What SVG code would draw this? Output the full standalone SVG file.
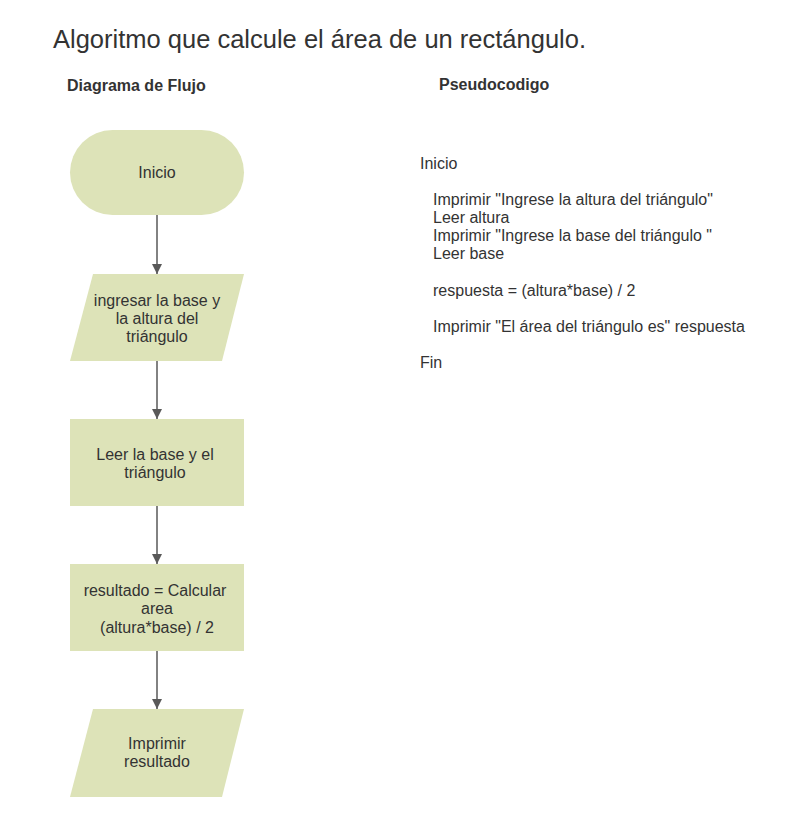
<svg xmlns="http://www.w3.org/2000/svg" width="786" height="832" viewBox="0 0 786 832">
<style>
text{font-family:"Liberation Sans",Arial,sans-serif;fill:#333333}
.n{fill:#dde3b8;stroke:none}
.t{font-size:16px;text-anchor:middle}
.h{font-size:16px;font-weight:bold}
.p{font-size:16px}
.c{stroke:#595959;stroke-width:1.5;fill:none;marker-end:url(#ah)}
</style>
<defs>
<marker id="ah" viewBox="0 0 10 10" refX="10" refY="5" markerWidth="10" markerHeight="10" markerUnits="userSpaceOnUse" orient="auto">
<path d="M0,0 L10,5 L0,10 Z" fill="#595959"/>
</marker>
</defs>
<rect width="786" height="832" fill="#ffffff"/>
<text x="53" y="48" style="font-size:25.5px">Algoritmo que calcule el área de un rectángulo.</text>
<text class="h" x="67" y="91">Diagrama de Flujo</text>
<text class="h" x="439" y="90">Pseudocodigo</text>

<g id="connectors">
<line class="c" x1="157" y1="215" x2="157" y2="274"/>
<line class="c" x1="157" y1="361" x2="157" y2="419"/>
<line class="c" x1="157" y1="506" x2="157" y2="564"/>
<line class="c" x1="157" y1="651" x2="157" y2="709"/>
</g>

<g id="inicio">
<rect class="n" x="70" y="130" width="174" height="85" rx="42.5" ry="42.5"/>
<text class="t" x="157" y="178">Inicio</text>
</g>
<g id="entrada">
<polygon class="n" points="93,274 244,274 222,361 70,361"/>
<text class="t" x="157" y="306">ingresar la base y</text>
<text class="t" x="157" y="324">la altura del</text>
<text class="t" x="157" y="342">triángulo</text>
</g>
<g id="leer">
<rect class="n" x="70" y="419" width="174" height="87"/>
<text class="t" x="155" y="460">Leer la base y el</text>
<text class="t" x="155" y="478">triángulo</text>
</g>
<g id="calcular">
<rect class="n" x="70" y="564" width="174" height="87"/>
<text class="t" x="155" y="596">resultado = Calcular</text>
<text class="t" x="157" y="614">area</text>
<text class="t" x="157" y="633">(altura*base) / 2</text>
</g>
<g id="imprimir">
<polygon class="n" points="93,709 244,709 222,797 70,797"/>
<text class="t" x="157" y="749">Imprimir</text>
<text class="t" x="157" y="767">resultado</text>
</g>

<g id="pseudocodigo">
<text class="p" x="420" y="169">Inicio</text>
<text class="p" x="433" y="205">Imprimir "Ingrese la altura del triángulo"</text>
<text class="p" x="433" y="223">Leer altura</text>
<text class="p" x="433" y="241">Imprimir "Ingrese la base del triángulo "</text>
<text class="p" x="433" y="259">Leer base</text>
<text class="p" x="433" y="296">respuesta = (altura*base) / 2</text>
<text class="p" x="433" y="332">Imprimir "El área del triángulo es" respuesta</text>
<text class="p" x="420" y="368">Fin</text>
</g>
</svg>
